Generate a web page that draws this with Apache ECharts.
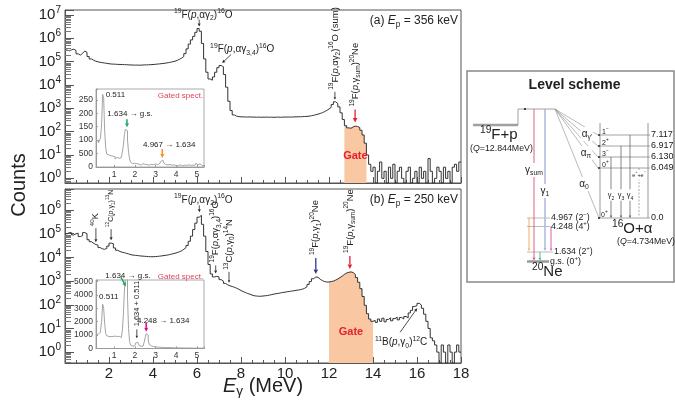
<!DOCTYPE html>
<html>
<head>
<meta charset="utf-8">
<script src="https://cdn.jsdelivr.net/npm/echarts@6/dist/echarts.min.js"></script>
<style>
  html, body { margin: 0; padding: 0; background: #fff; }
  #chart { width: 675px; height: 406px; }
</style>
</head>
<body>
<div id="chart"></div>
<script>
// ---------------- spectra ----------------
// Main gamma spectra: 0.1 MeV bins starting at 0 MeV (180 bins up to 18 MeV)
const BIN_START = 0;
const BIN_WIDTH = 0.1;

// (a) Ep = 356 keV
const countsA = [
  310000, 290000, 320000, 340000, 300000, 215000, 190000, 230000, 280000, 250000,
  165000, 130000, 115000, 104000, 98000, 93000, 90000, 87000, 84000, 81000,
  79000, 78000, 77000, 76000, 75500, 75000, 74000, 73500, 72500, 71500,
  71000, 70500, 71000, 70000, 71000, 72000, 72500, 73000, 74000, 75000,
  76500, 78000, 80000, 82000, 84000, 87000, 90000, 94000, 99000, 104000,
  112000, 125000, 140000, 165000, 220000, 350000, 560000, 850000, 1200000, 1800000,
  2600000, 2000000, 600000, 130000, 35000, 18000, 16000, 22000, 35000, 55000,
  68000, 60000, 28000, 8000, 2000, 800, 520, 460, 440, 430,
  430, 425, 420, 428, 418, 422, 415, 420, 412, 418,
  415, 420, 412, 418, 410, 415, 420, 413, 418, 422,
  420, 425, 418, 430, 428, 435, 432, 440, 445, 450,
  460, 480, 500, 530, 560, 600, 650, 720, 810, 930,
  1100, 1450, 1900, 1600, 1150, 640, 330, 180, 145, 140,
  160, 172, 166, 150, 115, 72, 32, 10, 4, 2,
  3, 0, 2, 5, 1, 2, 0, 3, 1, 4,
  0, 2, 3, 1, 0, 2, 3, 0, 1, 2,
  0, 3, 1, 2, 0, 7, 2, 0, 1, 3,
  2, 0, 3, 1, 2, 0, 3, 4, 2, 5
];

// (b) Ep = 250 keV
const countsB = [
  100000, 112000, 110000, 89000, 100000, 105000, 76000, 83000, 112000, 100000,
  56000, 46000, 40000, 35000, 33000, 26000, 23000, 22000, 24000, 30000,
  40000, 38000, 25000, 20000, 17800, 16500, 15800, 14800, 14000, 13000,
  12500, 12200, 12000, 11600, 11400, 11200, 11000, 10800, 10700, 10700,
  10800, 11000, 11300, 11600, 12000, 12400, 12800, 13500, 14200, 15000,
  16000, 17300, 19000, 22000, 26000, 32000, 48000, 79000, 150000, 280000,
  500000, 600000, 250000, 79000, 17800, 5000, 2000, 1500, 1580, 1500,
  1150, 1000, 800, 690, 630, 590, 550, 500, 450, 400,
  360, 330, 300, 280, 257, 240, 234, 229, 229, 234,
  240, 245, 257, 269, 282, 295, 302, 316, 331, 339,
  355, 363, 380, 389, 407, 417, 437, 457, 501, 575,
  724, 955, 1260, 1480, 1450, 1200, 1050, 955, 912, 912,
  955, 1000, 1100, 1230, 1410, 1620, 1910, 2190, 2340, 2450,
  2290, 1910, 1410, 891, 479, 224, 95, 42, 25, 20,
  22, 18, 25, 20, 27, 19, 24, 28, 21, 26,
  30, 23, 29, 25, 32, 28, 45, 58, 85, 92,
  115, 98, 71, 40, 20, 10, 4, 3, 2, 1,
  0, 2, 1, 0, 2, 1, 0, 1, 2, 1
];

// Gate windows (MeV)
const gateA = [12.7, 13.7];
const gateB = [12.0, 14.0];

// Gated spectra (insets): 0.05 MeV bins starting at 0.15 MeV
const INSET_BIN_START = 0.15;
const INSET_BIN_WIDTH = 0.05;

const gatedA = [
  95, 100, 90, 98, 110, 160, 270, 255, 130, 70,
  48, 45, 38, 42, 35, 40, 33, 38, 30, 36,
  41, 32, 28, 35, 40, 55, 80, 120, 140, 135,
  100, 55, 30, 18, 12, 10, 14, 9, 12, 8,
  11, 10, 7, 9, 12, 8, 10, 6, 9, 11,
  7, 8, 10, 6, 9, 8, 11, 7, 9, 10,
  12, 14, 20, 26, 24, 15, 9, 7, 8, 5,
  9, 6, 7, 5, 8, 6, 4, 7, 5, 6,
  8, 5, 4, 6, 7, 5, 6, 4, 8, 5,
  6, 9, 7, 5, 6, 10, 14, 8, 6, 12,
  7, 5, 9, 6
];

const gatedB = [
  1000, 1100, 1050, 1200, 1400, 2000, 3300, 3000, 1800, 1100,
  950, 900, 920, 880, 950, 900, 870, 920, 880, 900,
  850, 900, 870, 820, 900, 1300, 2500, 4300, 5300, 5400,
  3800, 1500, 500, 250, 180, 170, 200, 300, 420, 460,
  380, 250, 160, 150, 180, 250, 450, 800, 1100, 1000,
  600, 300, 200, 160, 150, 140, 130, 120, 110, 100,
  95, 90, 85, 80, 75, 70, 70, 60, 65, 55,
  60, 50, 55, 45, 50, 55, 45, 40, 50, 45,
  40, 35, 45, 40, 35, 40, 30, 35, 40, 30,
  35, 30, 25, 35, 30, 25, 30, 20, 30, 25,
  20, 30, 25, 20
];

// Inset tick labels (as printed)
const insetYLabelsA = ['0', '500', '100', '150', '200', '250'];
const insetYLabelsB = ['0', '1000', '2000', '3000', '4000', '5000'];
const insetYStepA = 50;
const insetYStepB = 1000;

// Log-axis minor tick multipliers
const MINOR_MULTS = [2, 3, 4, 5, 6, 7, 8, 9];

// Level scheme content
const o16Energies = ['7.117', '6.917', '6.130', '6.049', '0.0'];
const o16Spins = [['1', '−'], ['2', '+'], ['3', '−'], ['0', '+'], ['0', '+']];
const ne20Energies = ['4.967', '4.248', '1.634', 'g.s.'];
const ne20Spins = [['2', '−'], ['4', '+'], ['2', '+'], ['0', '+']];

// ---------------- styling helpers ----------------
const FONT = '"Liberation Sans", Arial, Helvetica, sans-serif';
const INK = '#222';
const CURVE = '#333';
const RED = '#e4202c', BLUE = '#2b3990', GREEN = '#1fa463', ORANGE = '#f39021', MAGENTA = '#e6007e';
const GATE_FILL = '#f9c7a1';

const T = s => `{t|${s}}`, I = s => `{i|${s}}`, S = s => `{u|${s}}`, D = s => `{d|${s}}`;

function richZR(size, color, bold) {
  color = color || INK;
  const sub = Math.round(size * 0.68 * 10) / 10;
  const base = { fill: color, color: color, fontFamily: FONT, fontWeight: bold ? 'bold' : 'normal' };
  return {
    t: Object.assign({}, base, { fontSize: size, lineHeight: size + 4 }),
    i: Object.assign({}, base, { fontSize: size, lineHeight: size + 4, fontStyle: 'italic' }),
    u: Object.assign({}, base, { fontSize: sub, lineHeight: sub, verticalAlign: 'top' }),
    d: Object.assign({}, base, { fontSize: sub, lineHeight: sub, verticalAlign: 'bottom' })
  };
}

function arrowEls(x1, y1, x2, y2, color, head, lw) {
  const els = [];
  const a = Math.atan2(y2 - y1, x2 - x1);
  const bx = x2 - head * Math.cos(a), by = y2 - head * Math.sin(a);
  els.push({ type: 'line', shape: { x1, y1, x2: head > 0 ? bx : x2, y2: head > 0 ? by : y2 }, style: { stroke: color, lineWidth: lw } });
  if (head > 0) {
    const w = head * 0.5;
    els.push({ type: 'polygon', shape: { points: [[x2, y2], [bx + w * Math.sin(a), by - w * Math.cos(a)], [bx - w * Math.sin(a), by + w * Math.cos(a)]] }, style: { fill: color } });
  }
  return els;
}

// Histogram as step-line points at left bin edges, plus a closing edge
function histPoints(counts, start, width, floor, from, to) {
  const pts = [];
  const i0 = from === undefined ? 0 : from;
  const i1 = to === undefined ? counts.length : to;
  for (let i = i0; i < i1; i++) {
    pts.push([+(start + i * width).toFixed(4), counts[i] > 0 ? counts[i] : floor]);
  }
  const last = counts[i1 - 1] > 0 ? counts[i1 - 1] : floor;
  pts.push([+(start + i1 * width).toFixed(4), last]);
  return pts;
}
function binIndex(e, start, width) { return Math.round((e - start) / width); }

// ---------------- axes ranges ----------------
const yMinA = Math.pow(10, -0.2), yMaxA = Math.pow(10, 7.21);
const yMinB = Math.pow(10, -0.46), yMaxB = Math.pow(10, 6.89);

function fmtPow(v) {
  const p = Math.log10(v), r = Math.round(p);
  return Math.abs(p - r) < 1e-6 ? `{b|10}{e|${r}}` : '';
}
const powRich = {
  b: { fontSize: 15, color: INK, fontFamily: FONT, lineHeight: 19 },
  e: { fontSize: 10, color: INK, fontFamily: FONT, lineHeight: 10, verticalAlign: 'top' }
};

function mainX(grid, showLabels) {
  return {
    type: 'value', gridIndex: grid, min: 0, max: 18, interval: 2,
    axisLine: { show: true, lineStyle: { color: '#555', width: 1 } },
    axisTick: { show: true, inside: true, length: 6, lineStyle: { color: '#555' } },
    minorTick: { show: true, splitNumber: 4, length: 3, lineStyle: { color: '#555' } },
    splitLine: { show: false },
    axisLabel: { show: showLabels, margin: 3, fontSize: 15, color: INK, fontFamily: FONT,
      formatter: v => (v === 0 ? '' : String(v)) }
  };
}
function mainY(grid, min, max) {
  return {
    type: 'log', logBase: 10, gridIndex: grid, min, max,
    axisLine: { show: true, lineStyle: { color: '#555', width: 1 } },
    axisTick: { show: true, inside: true, length: 9, lineStyle: { color: '#555' } },
    splitLine: { show: false },
    axisLabel: { margin: 4, formatter: fmtPow, rich: powRich }
  };
}
function insetX(grid) {
  return {
    type: 'value', gridIndex: grid, min: 0.13, max: 5.34,
    axisLine: { show: true, lineStyle: { color: '#999', width: 1 } },
    axisTick: { show: true, inside: true, length: 2, lineStyle: { color: '#999' } },
    splitLine: { show: false },
    axisLabel: { margin: 3, fontSize: 8.5, color: '#333', fontFamily: FONT,
      formatter: v => (Math.abs(v - Math.round(v)) < 1e-6 ? String(Math.round(v)) : '') }
  };
}
function insetY(grid, max, step, labels) {
  return {
    type: 'value', gridIndex: grid, min: 0, max, interval: step,
    axisLine: { show: true, lineStyle: { color: '#999', width: 1 } },
    axisTick: { show: true, inside: true, length: 2, lineStyle: { color: '#999' } },
    splitLine: { show: false },
    axisLabel: { margin: 3, fontSize: 8.5, color: '#333', fontFamily: FONT,
      formatter: v => {
        const k = Math.round(v / step);
        return Math.abs(v - k * step) < 1e-6 && labels[k] !== undefined ? labels[k] : '';
      } }
  };
}

// ---------------- annotation series ----------------
function annotationSeries(grid, specs) {
  return {
    type: 'custom', xAxisIndex: grid, yAxisIndex: grid, z: 8, silent: true, clip: false,
    data: specs.map(s => s.at),
    renderItem(params, api) {
      const s = specs[params.dataIndex];
      const p = api.coord([api.value(0), api.value(1)]);
      const kids = [];
      if (s.arrow) {
        kids.push(...arrowEls(p[0] + s.arrow[0], p[1] + s.arrow[1], p[0] + s.arrow[2], p[1] + s.arrow[3],
          s.color || INK, s.head === undefined ? 3 : s.head, s.lw || 0.8));
      }
      if (s.text) {
        kids.push({
          type: 'text', x: p[0] + (s.dx || 0), y: p[1] + (s.dy || 0), rotation: s.rot ? Math.PI / 2 : 0,
          style: { text: s.text, rich: richZR(s.size || 10, s.textColor || INK, s.bold),
            align: s.align || 'center', verticalAlign: 'middle' }
        });
      }
      return { type: 'group', children: kids };
    }
  };
}

function minorTickSeries(grid, lo, hi) {
  const vals = [];
  for (let n = Math.floor(lo); n <= Math.ceil(hi); n++) {
    MINOR_MULTS.forEach(k => {
      const v = k * Math.pow(10, n), l = Math.log10(v);
      if (l > lo && l < hi) vals.push([0, v]);
    });
  }
  return {
    type: 'custom', xAxisIndex: grid, yAxisIndex: grid, z: 4, silent: true,
    data: vals,
    renderItem(params, api) {
      const y = Math.round(api.coord([0, api.value(1)])[1]) + 0.5;
      const x = params.coordSys.x;
      return { type: 'line', shape: { x1: x, y1: y, x2: x + 6, y2: y }, style: { stroke: '#777', lineWidth: 1 } };
    }
  };
}

// Label texts
const L_ag2 = S('19') + T('F(') + I('p') + T(',αγ') + D('2') + T(')') + S('16') + T('O');
const L_ag34 = S('19') + T('F(') + I('p') + T(',αγ') + D('3,4') + T(')') + S('16') + T('O');
const L_ag2sum = L_ag2 + T(' (sum)');
const L_gsum = S('19') + T('F(') + I('p') + T(',γ') + D('sum') + T(')') + S('20') + T('Ne');
const L_g1 = S('19') + T('F(') + I('p') + T(',γ') + D('1') + T(')') + S('20') + T('Ne');
const L_K40 = S('40') + T('K');
const L_C12 = S('12') + T('C(') + I('p') + T(',γ') + D('1') + T(')') + S('13') + T('N');
const L_C13 = S('13') + T('C(') + I('p') + T(',γ') + D('0') + T(')') + S('14') + T('N');
const L_B11 = S('11') + T('B(') + I('p') + T(',γ') + D('0') + T(')') + S('12') + T('C');
const L_gate = T('Gate');
const L_gated = T('Gated spect.');

const annA = [
  { at: [6.1, 2600000], arrow: [0, -9, 0, -2], head: 3, text: L_ag2, dx: 4, dy: -13.5 },
  { at: [7.05, 68000], arrow: [11, -11, 2, -2.5], head: 3, text: L_ag34, dx: -10, dy: -16, align: 'left' },
  { at: [12.2, 1900], arrow: [1.5, -10, 1.5, -2], head: 2.5, text: L_ag2sum, rot: true, dx: 1.5, dy: -12, align: 'left', size: 9.5 },
  { at: [13.05, 166], arrow: [3, -17, 3, -4], head: 4.5, lw: 1.3, color: RED, text: L_gsum, rot: true, dx: 3, dy: -20, align: 'left', size: 9.5 },
  { at: [13.2, 9], text: L_gate, textColor: RED, size: 11, bold: true }
];
const annB = [
  { at: [1.45, 33000], arrow: [-1, -17, -1, -3], head: 3, text: L_K40, rot: true, dx: -1, dy: -19, align: 'left', size: 9 },
  { at: [2.05, 40000], arrow: [1, -14, 1, -3], head: 3, text: L_C12, rot: true, dx: 1, dy: -16, align: 'left', size: 7 },
  { at: [6.15, 600000], arrow: [-1, -10, -1, -3], head: 3, text: L_ag2, dx: 3, dy: -15.5 },
  { at: [6.85, 1580], arrow: [0, -11, 0, -3], head: 3, text: L_ag34, rot: true, dx: 0, dy: -14, align: 'left', size: 9.5 },
  { at: [7.5, 630], arrow: [-1, -14, -1, -3], head: 2.5, text: L_C13, rot: true, dx: -1, dy: -16, align: 'left', size: 9.5 },
  { at: [11.4, 1480], arrow: [0, -19, 0, -3], head: 4.5, lw: 1.3, color: BLUE, text: L_g1, rot: true, dx: 0, dy: -22, align: 'left', size: 9.5 },
  { at: [12.95, 2450], arrow: [0, -16, 0, -3], head: 4.5, lw: 1.3, color: RED, text: L_gsum, rot: true, dx: 0, dy: -19, align: 'left', size: 9.5 },
  { at: [13.0, 7], text: L_gate, textColor: RED, size: 11, bold: true },
  { at: [16.05, 115], arrow: [-18, 29, -1, 5], head: 3, text: L_B11, dx: -17, dy: 39 }
];
const annInsetA = [
  { at: [0.5, 270], text: T('0.511'), dx: 2, dy: 0, align: 'left', size: 8 },
  { at: [5.3, 265], text: L_gated, textColor: '#e0405a', align: 'right', size: 8 },
  { at: [1.625, 140], arrow: [0, -10, 0, -2], head: 4, lw: 1.5, color: GREEN, text: T('1.634 → g.s.'), dx: 3, dy: -15.5, size: 8 },
  { at: [3.325, 26], arrow: [0, -11, 0, -2], head: 4, lw: 1.5, color: ORANGE, text: T('4.967 → 1.634'), dx: 7, dy: -15, size: 8 }
];
const annInsetB = [
  { at: [1.576, 4580], arrow: [-5, -9.5, 0, -0.5], head: 4, lw: 1.5, color: GREEN, text: T('1.634 → g.s.'), dx: 2, dy: -11, size: 8 },
  { at: [5.3, 5350], text: L_gated, textColor: '#e0405a', align: 'right', size: 8 },
  { at: [0.28, 3830], text: T('0.511'), align: 'left', size: 8 },
  { at: [2.1, 460], arrow: [0, -13, 0, -4], head: 2.5, text: T('1.634 + 0.511'), rot: true, dx: 0, dy: -16, align: 'left', size: 7.5 },
  { at: [2.6, 1100], arrow: [-1, -11, -1, -2], head: 4, lw: 1.5, color: MAGENTA, text: T('4.248 → 1.634'), dx: 16, dy: -13, size: 8 }
];

// ---------------- level scheme (schematic diagram) ----------------
function lsLine(x1, y1, x2, y2, stroke, lw, dash) {
  return { type: 'line', shape: { x1, y1, x2, y2 }, style: { stroke, lineWidth: lw || 1, lineDash: dash || null } };
}
function lsText(x, y, text, size, o) {
  o = o || {};
  const style = { text, rich: richZR(size, o.color || INK, o.bold), align: o.align || 'left', verticalAlign: 'middle' };
  if (o.bg) { style.backgroundColor = '#fff'; style.padding = [0, 1]; }
  return { type: 'text', x, y, style };
}
function spin(sp) { return T(sp[0]) + S(sp[1]); }

function levelScheme() {
  const k = [];
  const W = 207, H = 211;
  const entryY = 54, resY = 38, resX0 = 51, resX1 = 88;
  const oX0 = 133, oX1 = 181, oRows = [64, 75, 86, 97, 147];
  const nX0 = 60, nRows = [147, 155.5, 181, 190.5];
  const gray = '#8c8c8c';

  k.push({ type: 'rect', shape: { x: 0, y: 0, width: W, height: H }, style: { fill: '#fff', stroke: '#888', lineWidth: 1.5 } });
  k.push({ type: 'text', x: W / 2 + 4, y: 14, style: { text: 'Level scheme', fontFamily: FONT, fontSize: 14, fontWeight: 'bold', fill: INK, align: 'center', verticalAlign: 'middle' } });

  // 19F+p entrance channel and resonance
  k.push(lsLine(6, entryY, resX0, entryY, '#a0a0a0', 2.5));
  k.push(lsLine(resX0, entryY, resX0, resY, gray, 0.8));
  k.push(lsLine(resX0, resY, resX1, resY, gray, 0.8));
  k.push({ type: 'circle', shape: { cx: 58, cy: resY, r: 1.1 }, style: { fill: INK } });

  // alpha branches to 16O states
  [64, 75, 86, 97].forEach(y => k.push(lsLine(resX1, resY, oX0 - 2, y, gray, 0.6)));
  k.push(lsLine(resX1, resY, oX0 - 1, oRows[4], gray, 0.6));

  // 16O + alpha levels
  k.push(lsLine(oX0, entryY - 2, oX0, oRows[4], gray, 0.9));
  k.push(lsLine(oX1, entryY - 2, oX1, oRows[4], gray, 0.9));
  oRows.forEach((y, i) => {
    k.push(lsLine(i === 4 ? oX0 - 2 : oX0, y, oX1 + 2, y, gray, 0.8));
    k.push({ type: 'circle', shape: { cx: oX0 - 1, cy: y, r: 1 }, style: { fill: INK } });
    k.push(lsText(oX1 + 3, y, T(o16Energies[i]), 9));
  });
  // gamma transitions in 16O
  k.push(...arrowEls(144, oRows[2], 144, oRows[4], '#555', 2.5, 0.7));
  k.push(...arrowEls(154, oRows[1], 154, oRows[4], '#555', 2.5, 0.7));
  k.push(...arrowEls(163, oRows[0], 163, oRows[4], '#555', 2.5, 0.7));
  k.push(lsLine(172, oRows[3], 172, oRows[4] - 2, '#888', 0.7, [2, 1.5]));

  // 20Ne levels
  k.push(lsLine(nX0, nRows[0], 83, nRows[0], '#aaa', 0.8));
  k.push(lsLine(nX0, nRows[1], 83, nRows[1], '#aaa', 0.8));
  k.push(lsLine(nX0, nRows[2], 86, nRows[2], '#aaa', 0.8));
  k.push(lsLine(nX0, nRows[3], 82, nRows[3], '#999', 2.5));

  // gamma transitions to 20Ne
  k.push(...arrowEls(67, resY, 67, nRows[3] - 1, '#e05070', 3, 0.9));
  k.push(...arrowEls(78, resY, 78, nRows[2] - 1, '#a9b1dd', 3, 1.4));
  k.push(...arrowEls(62, nRows[0], 62, nRows[2] - 1, '#f2a455', 2.5, 0.9));
  k.push(...arrowEls(73, nRows[2], 73, nRows[3] - 1, '#35b575', 2.5, 0.9));
  k.push(...arrowEls(84, nRows[1], 84, nRows[2] - 1, '#e04aa5', 2.5, 0.9));

  // labels
  k.push(lsText(13, 64, S('19') + T('F+p'), 15));
  k.push(lsText(3, 78, T('(') + I('Q') + T('=12.844MeV)'), 8.8));
  k.push(lsText(67, 99, T('γ') + D('sum'), 10, { align: 'center', bg: true }));
  k.push(lsText(78, 120, T('γ') + D('1'), 10, { align: 'center', bg: true }));
  k.push(lsText(120, 63, T('α') + D("γ'"), 10, { align: 'center', bg: true }));
  k.push(lsText(119, 82, T('α') + D('π'), 10, { align: 'center', bg: true }));
  k.push(lsText(117, 113, T('α') + D('0'), 10, { align: 'center', bg: true }));
  [61, 72, 83, 94].forEach((y, i) => k.push(lsText(135, y, spin(o16Spins[i]), 7)));
  k.push(lsText(134, oRows[4] - 3, spin(o16Spins[4]), 7));
  k.push(lsText(144, 124, T('γ') + D('2'), 7.5, { align: 'center', bg: true }));
  k.push(lsText(154, 124, T('γ') + D('3'), 7.5, { align: 'center', bg: true }));
  k.push(lsText(163, 124, T('γ') + D('4'), 7.5, { align: 'center', bg: true }));
  k.push(lsText(172, 104, T('e') + S('+') + T('+e') + S('−'), 5.5, { align: 'center', bg: true }));
  k.push(lsText(145, 158, S('16') + T('O+α'), 15));
  k.push(lsText(150, 171, T('(') + I('Q') + T('=4.734MeV)'), 8.8));
  nRows.forEach((y, i) => {
    const x = i === 2 ? 87 : (i === 3 ? 83 : 84);
    k.push(lsText(x, y, T(ne20Energies[i] + ' (') + spin(ne20Spins[i]) + T(')'), 8.8));
  });
  k.push(lsText(65, 201, S('20') + T('Ne'), 15));
  return { type: 'group', x: 467, y: 71, children: k };
}

// ---------------- chart ----------------
const chart = echarts.init(document.getElementById('chart'), null, { renderer: 'canvas' });

const iGA0 = binIndex(gateA[0], BIN_START, BIN_WIDTH), iGA1 = binIndex(gateA[1], BIN_START, BIN_WIDTH);
const iGB0 = binIndex(gateB[0], BIN_START, BIN_WIDTH), iGB1 = binIndex(gateB[1], BIN_START, BIN_WIDTH);

const option = {
  animation: false,
  backgroundColor: '#fff',
  grid: [
    { left: 65, top: 10, width: 396, height: 173, show: true, borderColor: '#555', borderWidth: 1, backgroundColor: 'transparent' },
    { left: 65, top: 189, width: 396, height: 174, show: true, borderColor: '#555', borderWidth: 1, backgroundColor: 'transparent' },
    { left: 96, top: 89, width: 108, height: 78, show: true, borderColor: '#aaa', borderWidth: 1, backgroundColor: '#fff' },
    { left: 96, top: 280, width: 108, height: 68.5, show: true, borderColor: '#aaa', borderWidth: 1, backgroundColor: '#fff' }
  ],
  xAxis: [mainX(0, false), mainX(1, true), insetX(2), insetX(3)],
  yAxis: [
    mainY(0, yMinA, yMaxA),
    mainY(1, yMinB, yMaxB),
    insetY(2, 290, insetYStepA, insetYLabelsA),
    insetY(3, 5100, insetYStepB, insetYLabelsB)
  ],
  series: [
    { type: 'line', name: 'gateA', xAxisIndex: 0, yAxisIndex: 0, step: 'end', symbol: 'none', z: 2,
      data: histPoints(countsA, BIN_START, BIN_WIDTH, yMinA, iGA0, iGA1),
      lineStyle: { width: 0 }, areaStyle: { color: GATE_FILL, opacity: 1, origin: 'start' } },
    { type: 'line', name: 'Ep = 356 keV', xAxisIndex: 0, yAxisIndex: 0, step: 'end', symbol: 'none', z: 3,
      data: histPoints(countsA, BIN_START, BIN_WIDTH, yMinA),
      lineStyle: { color: CURVE, width: 1 } },
    { type: 'line', name: 'gateB', xAxisIndex: 1, yAxisIndex: 1, step: 'end', symbol: 'none', z: 2,
      data: histPoints(countsB, BIN_START, BIN_WIDTH, yMinB, iGB0, iGB1),
      lineStyle: { width: 0 }, areaStyle: { color: GATE_FILL, opacity: 1, origin: 'start' } },
    { type: 'line', name: 'Ep = 250 keV', xAxisIndex: 1, yAxisIndex: 1, step: 'end', symbol: 'none', z: 3,
      data: histPoints(countsB, BIN_START, BIN_WIDTH, yMinB),
      lineStyle: { color: CURVE, width: 1 } },
    { type: 'line', name: 'gated A', xAxisIndex: 2, yAxisIndex: 2, step: 'end', symbol: 'none', z: 5,
      data: histPoints(gatedA, INSET_BIN_START, INSET_BIN_WIDTH, 0),
      lineStyle: { color: '#9a9a9a', width: 0.9 } },
    { type: 'line', name: 'gated B', xAxisIndex: 3, yAxisIndex: 3, step: 'end', symbol: 'none', z: 5,
      data: histPoints(gatedB, INSET_BIN_START, INSET_BIN_WIDTH, 0),
      lineStyle: { color: '#9a9a9a', width: 0.9 } },
    minorTickSeries(0, -0.2, 7.21),
    minorTickSeries(1, -0.46, 6.89),
    annotationSeries(0, annA),
    annotationSeries(1, annB),
    annotationSeries(2, annInsetA),
    annotationSeries(3, annInsetB)
  ],
  graphic: [
    { type: 'text', x: 19, y: 185, rotation: Math.PI / 2,
      style: { text: 'Counts', fontFamily: FONT, fontSize: 20, fill: INK, align: 'center', verticalAlign: 'middle' } },
    { type: 'text', x: 263, y: 386,
      style: { text: I('E') + D('γ') + T(' (MeV)'), rich: richZR(20, INK), align: 'center', verticalAlign: 'middle' } },
    { type: 'text', x: 458, y: 21,
      style: { text: T('(a) ') + I('E') + '{d|' + 'p' + '}' + T(' = 356 keV'), rich: richZR(12, INK), align: 'right', verticalAlign: 'middle' } },
    { type: 'text', x: 458, y: 200,
      style: { text: T('(b) ') + I('E') + '{d|' + 'p' + '}' + T(' = 250 keV'), rich: richZR(12, INK), align: 'right', verticalAlign: 'middle' } },
    levelScheme()
  ]
};

chart.setOption(option);
</script>
</body>
</html>
